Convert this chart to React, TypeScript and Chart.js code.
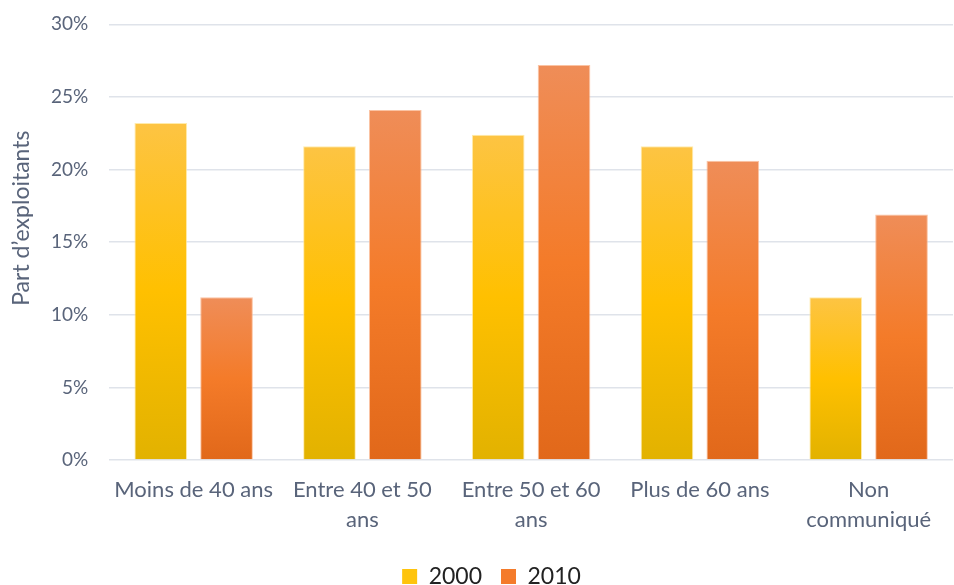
import React, { useEffect, useRef } from "react";
import { Chart, registerables } from "chart.js";

Chart.register(...registerables);

const categories: (string | string[])[] = [
  "Moins de 40 ans",
  ["Entre 40 et 50", "ans"],
  ["Entre 50 et 60", "ans"],
  "Plus de 60 ans",
  ["Non", "communiqué"],
];
const series2000 = [23.2, 21.6, 22.4, 21.6, 11.2];
const series2010 = [11.2, 24.1, 27.2, 20.6, 16.9];
const seriesLabels = ["2000", "2010"];
const yTicks = [0, 5, 10, 15, 20, 25, 30];
const yTitle = "Part d’exploitants";

const gradStops = [
  ["#fdc443", "#ffc000", "#e2b200"],
  ["#ef8d58", "#f47b29", "#e1681a"],
];
const solidColors = ["#fec40d", "#f47b2b"];
const FONT = "Lato, 'Open Sans', sans-serif";
const TEXT = "#59647a";

function barGradient(ctx: any, idx: number) {
  const chart = ctx.chart;
  const area = chart.chartArea;
  if (!area || ctx.type !== "data") return solidColors[idx];
  const y = chart.scales.y;
  const v = ctx.raw as number;
  const top = y.getPixelForValue(v);
  const bottom = y.getPixelForValue(0);
  if (!isFinite(top) || !isFinite(bottom) || top === bottom) return solidColors[idx];
  const g = chart.ctx.createLinearGradient(0, top, 0, bottom);
  const s = gradStops[idx];
  g.addColorStop(0, s[0]);
  g.addColorStop(0.5, s[1]);
  g.addColorStop(1, s[2]);
  return g;
}

const yTitlePlugin = {
  id: "yTitlePlugin",
  afterDraw(chart: any) {
    const { ctx, chartArea } = chart;
    const cy = (chartArea.top + chartArea.bottom) / 2 - 24;
    ctx.save();
    ctx.translate(22, cy);
    ctx.rotate(-Math.PI / 2);
    ctx.fillStyle = TEXT;
    ctx.font = `23px ${FONT}`;
    ctx.textAlign = "center";
    ctx.textBaseline = "middle";
    ctx.fillText(yTitle, 0, 0);
    ctx.restore();
  },
};

export default function App() {
  const ref = useRef<HTMLCanvasElement>(null);
  useEffect(() => {
    if (!ref.current) return;
    const chart = new Chart(ref.current, {
      type: "bar",
      plugins: [yTitlePlugin],
      data: {
        labels: categories,
        datasets: [
          {
            label: seriesLabels[0],
            data: series2000,
            backgroundColor: (c: any) => barGradient(c, 0),
            borderColor: "rgba(255,230,150,0.8)",
            borderWidth: 1,
            categoryPercentage: 0.78,
            barPercentage: 0.8,
          },
          {
            label: seriesLabels[1],
            data: series2010,
            backgroundColor: (c: any) => barGradient(c, 1),
            borderColor: "rgba(250,180,140,0.8)",
            borderWidth: 1,
            categoryPercentage: 0.78,
            barPercentage: 0.8,
          },
        ],
      },
      options: {
        animation: false,
        responsive: false,
        maintainAspectRatio: false,
        layout: { padding: { left: 30, right: 1, top: 0, bottom: -13 } },
        plugins: {
          tooltip: { enabled: false },
          legend: {
            position: "bottom",
            labels: {
              boxWidth: 15,
              boxHeight: 15,
              color: "#222",
              font: { family: FONT, size: 23 },
              padding: 19,
              generateLabels: (ch: any) =>
                ch.data.datasets.map((d: any, i: number) => ({
                  text: d.label,
                  fillStyle: solidColors[i],
                  strokeStyle: solidColors[i],
                  lineWidth: 0,
                  datasetIndex: i,
                  fontColor: "#222",
                })),
            },
          },
        },
        scales: {
          x: {
            grid: { display: false, drawTicks: false },
            border: { display: false },
            ticks: {
              color: TEXT,
              font: { family: FONT, size: 22, lineHeight: 1.35 },
              maxRotation: 0,
              autoSkip: false,
              padding: 15,
            },
            afterFit: (s: any) => {
              s.height = 86;
            },
          },
          y: {
            min: 0,
            max: 30,
            afterBuildTicks: (s: any) => {
              s.ticks = yTicks.map((v) => ({ value: v }));
            },
            grid: { color: "#dfe3ea", lineWidth: 1.5, drawTicks: false },
            border: { display: false },
            ticks: {
              color: TEXT,
              font: { family: FONT, size: 19, lineHeight: 0.35 },
              padding: 21,
              callback: (v: any) => v + "%",
            },
          },
        },
      },
    });
    return () => chart.destroy();
  }, []);
  return (
    <div style={{ position: "absolute", left: 0, top: 0, width: 954, height: 585, background: "#fff" }}>
      <canvas ref={ref} width={954} height={585} style={{ width: 954, height: 585 }} />
    </div>
  );
}
